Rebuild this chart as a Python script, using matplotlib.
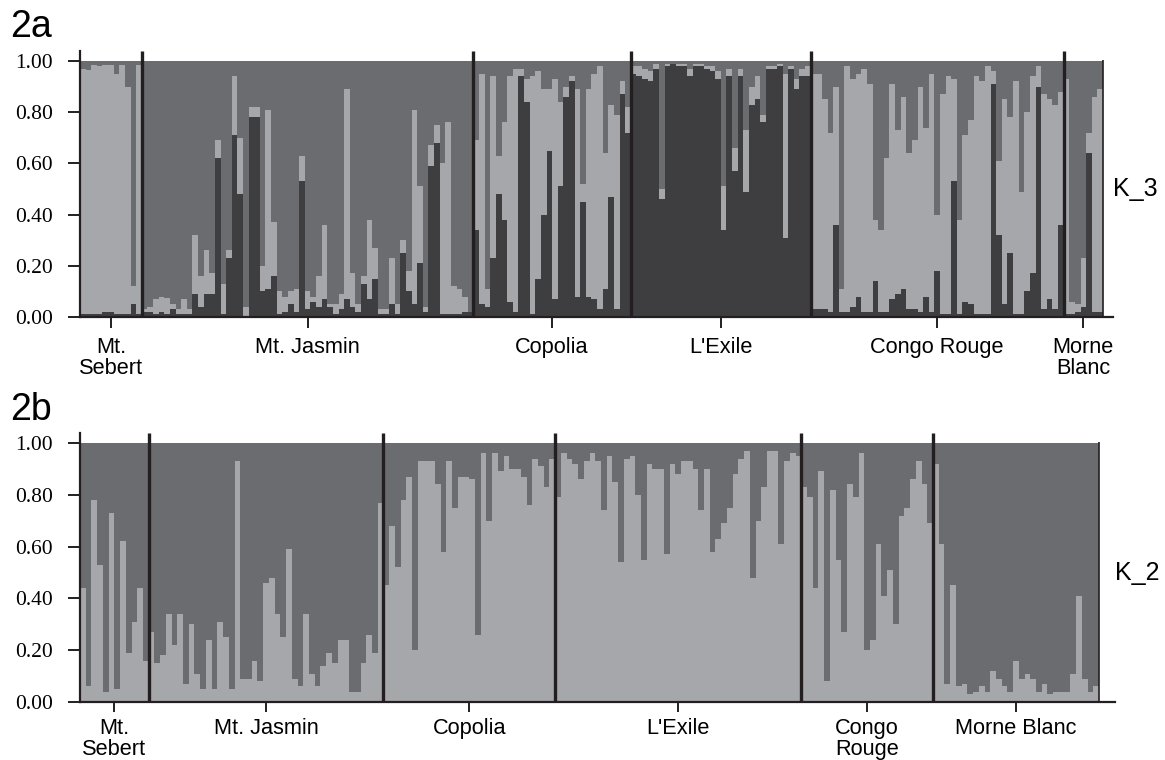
import matplotlib
matplotlib.use('Agg')
import matplotlib.pyplot as plt
import numpy as np

# colours of the STRUCTURE clusters
c_dark = '#3e3e40'
c_light = '#a6a7ab'
c_mid = '#6b6c70'
c_line = '#231f20'

sans = ['Liberation Sans', 'DejaVu Sans']
serif = ['Liberation Serif', 'DejaVu Serif']

# ---- panel 2a (K = 3): dark and light membership per individual, rest is mid grey
groups_a = ['Mt.\nSebert', 'Mt. Jasmin', 'Copolia', "L'Exile", 'Congo Rouge', 'Morne\nBlanc']

sebert_a_dark = [0.01, 0.01, 0.01, 0.01, 0.02, 0.02, 0.01, 0.01, 0.01, 0.05, 0.01]
sebert_a_light = [0.96, 0.955, 0.975, 0.97, 0.965, 0.965, 0.94, 0.975, 0.89, 0.07, 0.975]

jasmin_a_dark = [0.02, 0.02, 0.01, 0.02, 0.01, 0.03, 0.01, 0.01, 0.01, 0.09,
                 0.04, 0.09, 0.09, 0.62, 0.01, 0.23, 0.71, 0.48, 0.0, 0.78,
                 0.78, 0.10, 0.11, 0.16, 0.01, 0.02, 0.05, 0.02, 0.53, 0.03,
                 0.06, 0.04, 0.07, 0.04, 0.01, 0.03, 0.07, 0.04, 0.02, 0.13,
                 0.07, 0.15, 0.01, 0.01, 0.05, 0.01, 0.25, 0.10, 0.05, 0.21,
                 0.02, 0.59, 0.68, 0.01, 0.01, 0.01, 0.01, 0.02, 0.02]
jasmin_a_light = [0.01, 0.02, 0.06, 0.06, 0.065, 0.02, 0.02, 0.06, 0.02, 0.23,
                  0.12, 0.17, 0.08, 0.07, 0.12, 0.03, 0.23, 0.22, 0.04, 0.04,
                  0.04, 0.10, 0.70, 0.21, 0.09, 0.06, 0.05, 0.09, 0.10, 0.07,
                  0.02, 0.12, 0.29, 0.01, 0.04, 0.06, 0.82, 0.13, 0.03, 0.03,
                  0.31, 0.12, 0.02, 0.02, 0.18, 0.04, 0.05, 0.08, 0.76, 0.30,
                  0.02, 0.08, 0.07, 0.59, 0.75, 0.11, 0.10, 0.06, 0.0]

copolia_a_dark = [0.34, 0.05, 0.04, 0.23, 0.48, 0.38, 0.06, 0.02, 0.94, 0.84,
                  0.01, 0.15, 0.40, 0.65, 0.07, 0.51, 0.86, 0.92, 0.08, 0.45,
                  0.08, 0.07, 0.03, 0.11, 0.47, 0.03, 0.87, 0.72]
copolia_a_light = [0.35, 0.90, 0.07, 0.71, 0.15, 0.38, 0.88, 0.95, 0.03, 0.09,
                   0.93, 0.81, 0.49, 0.24, 0.86, 0.33, 0.04, 0.02, 0.81, 0.07,
                   0.81, 0.88, 0.95, 0.53, 0.36, 0.76, 0.05, 0.10]

exile_a_dark = [0.95, 0.94, 0.93, 0.92, 0.97, 0.46, 0.98, 0.99, 0.98, 0.98,
                0.94, 0.98, 0.98, 0.97, 0.96, 0.93, 0.34, 0.94, 0.57, 0.94,
                0.49, 0.83, 0.85, 0.76, 0.97, 0.97, 0.98, 0.31, 0.97, 0.89,
                0.94, 0.94]
exile_a_light = [0.03, 0.04, 0.04, 0.04, 0.02, 0.04, 0.01, 0.0, 0.01, 0.01,
                 0.03, 0.01, 0.01, 0.01, 0.02, 0.03, 0.17, 0.03, 0.09, 0.03,
                 0.24, 0.07, 0.09, 0.03, 0.01, 0.01, 0.01, 0.64, 0.01, 0.04,
                 0.03, 0.04]

congo_a_dark = [0.03, 0.03, 0.03, 0.02, 0.36, 0.02, 0.02, 0.04, 0.08, 0.02,
                0.02, 0.14, 0.02, 0.02, 0.07, 0.09, 0.11, 0.03, 0.03, 0.02,
                0.08, 0.02, 0.18, 0.01, 0.01, 0.53, 0.01, 0.06, 0.05, 0.01,
                0.01, 0.01, 0.91, 0.32, 0.05, 0.25, 0.01, 0.01, 0.10, 0.17,
                0.90, 0.03, 0.07, 0.03, 0.36]
congo_a_light = [0.92, 0.92, 0.82, 0.70, 0.54, 0.09, 0.96, 0.89, 0.87, 0.95,
                 0.89, 0.24, 0.32, 0.60, 0.84, 0.64, 0.75, 0.61, 0.66, 0.88,
                 0.66, 0.93, 0.22, 0.86, 0.93, 0.40, 0.37, 0.65, 0.72, 0.93,
                 0.91, 0.97, 0.05, 0.29, 0.80, 0.53, 0.91, 0.48, 0.70, 0.77,
                 0.08, 0.84, 0.78, 0.80, 0.52]

morne_a_dark = [0.01, 0.01, 0.02, 0.04, 0.64, 0.02, 0.02]
morne_a_light = [0.92, 0.05, 0.03, 0.19, 0.08, 0.84, 0.87]

# ---- panel 2b (K = 2): light membership per individual, rest is mid grey
groups_b = ['Mt.\nSebert', 'Mt. Jasmin', 'Copolia', "L'Exile", 'Congo\nRouge', 'Morne Blanc']

sebert_b = [0.44, 0.06, 0.78, 0.53, 0.04, 0.73, 0.05, 0.62, 0.19, 0.31, 0.44, 0.16]
jasmin_b = [0.27, 0.15, 0.18, 0.34, 0.22, 0.34, 0.07, 0.30, 0.11, 0.05,
            0.24, 0.05, 0.31, 0.25, 0.05, 0.93, 0.09, 0.09, 0.16, 0.08,
            0.46, 0.48, 0.34, 0.25, 0.59, 0.09, 0.06, 0.34, 0.11, 0.06,
            0.14, 0.19, 0.15, 0.24, 0.24, 0.04, 0.04, 0.15, 0.26, 0.19, 0.77]
copolia_b = [0.45, 0.68, 0.52, 0.78, 0.87, 0.20, 0.93, 0.93, 0.93, 0.84,
             0.58, 0.93, 0.75, 0.87, 0.87, 0.86, 0.26, 0.96, 0.70, 0.96,
             0.89, 0.95, 0.90, 0.90, 0.87, 0.76, 0.94, 0.91, 0.83, 0.94]
exile_b = [0.79, 0.96, 0.94, 0.92, 0.86, 0.93, 0.96, 0.93, 0.74, 0.95,
           0.85, 0.54, 0.94, 0.95, 0.80, 0.55, 0.92, 0.90, 0.90, 0.57,
           0.92, 0.88, 0.93, 0.93, 0.90, 0.74, 0.90, 0.58, 0.63, 0.69,
           0.75, 0.88, 0.94, 0.97, 0.48, 0.70, 0.83, 0.97, 0.97, 0.61,
           0.93, 0.96, 0.95]
congo_b = [0.83, 0.79, 0.44, 0.89, 0.08, 0.82, 0.55, 0.27, 0.84, 0.79,
           0.96, 0.20, 0.24, 0.61, 0.41, 0.51, 0.30, 0.72, 0.75, 0.86,
           0.93, 0.84, 0.69]
morne_b = [0.92, 0.61, 0.07, 0.45, 0.06, 0.07, 0.03, 0.04, 0.06, 0.04,
           0.12, 0.09, 0.06, 0.04, 0.16, 0.09, 0.11, 0.09, 0.04, 0.07,
           0.03, 0.04, 0.04, 0.04, 0.11, 0.41, 0.09, 0.04, 0.06]

ticks_y = [0.0, 0.2, 0.4, 0.6, 0.8, 1.0]

W, H = 1165, 760
fig = plt.figure(figsize=(W / 100, H / 100), dpi=100)


def make_axes(x0, x1, xend, y0, unit, n):
    # pixel geometry -> figure fraction; x0..x1 is the span of the bars
    per_bar = (x1 - x0) / n
    extra = (xend - x1) / per_bar
    ax = fig.add_axes([x0 / W, (H - y0) / H, (xend - x0) / W, 1.06 * unit / H])
    ax.set_xlim(-0.5, n - 0.5 + extra)
    ax.set_ylim(0, 1.06)
    return ax


def style(ax, n, sizes, names, label_k, tick_len, lab_off):
    bounds = np.cumsum(sizes)[:-1] - 0.5
    ax.vlines(bounds, 0, 1.04, color=c_line, lw=2.4, zorder=3)
    ax.vlines([n - 0.5], 0, 1.005, color=c_line, lw=1.2, zorder=3)
    for s in ['top', 'right']:
        ax.spines[s].set_visible(False)
    ax.spines['left'].set_bounds(0, 1.04)
    for s in ['left', 'bottom']:
        ax.spines[s].set_linewidth(1.6)
        ax.spines[s].set_color(c_line)
    ax.set_yticks(ticks_y)
    ax.set_yticklabels(['%.2f' % t for t in ticks_y], family=serif, fontsize=15.5)
    ax.tick_params(axis='y', length=8.5, width=1.4, pad=11, color=c_line)
    starts = np.concatenate([[0], np.cumsum(sizes)[:-1]])
    centers = starts + np.array(sizes) / 2.0 - 0.5
    ax.set_xticks(centers)
    ax.set_xticklabels([])
    ax.tick_params(axis='x', length=tick_len, width=1.4, color=c_line)
    for cx, name in zip(centers, names):
        ax.annotate(name, xy=(cx, 0), xycoords=('data', 'axes fraction'),
                    xytext=(0, -lab_off), textcoords='offset points',
                    ha='center', va='top', fontsize=15.7, family=sans,
                    linespacing=1.0)
    ax.text(1.0, 0.47, label_k, transform=ax.transAxes, ha='left', va='center',
            fontsize=18, family=sans)


# panel a
dark_a = [sebert_a_dark, jasmin_a_dark, copolia_a_dark, exile_a_dark, congo_a_dark, morne_a_dark]
light_a = [sebert_a_light, jasmin_a_light, copolia_a_light, exile_a_light, congo_a_light, morne_a_light]
sizes_a = [len(g) for g in dark_a]
d_a = np.concatenate(dark_a)
l_a = np.concatenate(light_a)
m_a = 1 - d_a - l_a
n_a = len(d_a)
x_a = np.arange(n_a)

ax1 = make_axes(80, 1103, 1113, 317, 256, n_a)
ax1.bar(x_a, d_a, width=1.0, color=c_dark, linewidth=0)
ax1.bar(x_a, l_a, bottom=d_a, width=1.0, color=c_light, linewidth=0)
ax1.bar(x_a, m_a, bottom=d_a + l_a, width=1.0, color=c_mid, linewidth=0)
style(ax1, n_a, sizes_a, groups_a, 'K_3', 8, 14.2)

# panel b
light_b = [sebert_b, jasmin_b, copolia_b, exile_b, congo_b, morne_b]
sizes_b = [len(g) for g in light_b]
l_b = np.concatenate(light_b)
n_b = len(l_b)
x_b = np.arange(n_b)

ax2 = make_axes(80, 1099, 1115, 702, 259, n_b)
ax2.bar(x_b, l_b, width=1.0, color=c_light, linewidth=0)
ax2.bar(x_b, 1 - l_b, bottom=l_b, width=1.0, color=c_mid, linewidth=0)
style(ax2, n_b, sizes_b, groups_b, 'K_2', 7, 11.5)

fig.text(10 / W, 1 - 27 / H, '2a', fontsize=27, family=['Liberation Sans'], va='center')
fig.text(10 / W, 1 - 410 / H, '2b', fontsize=27, family=['Liberation Sans'], va='center')

fig.savefig('out.png', dpi=100)
